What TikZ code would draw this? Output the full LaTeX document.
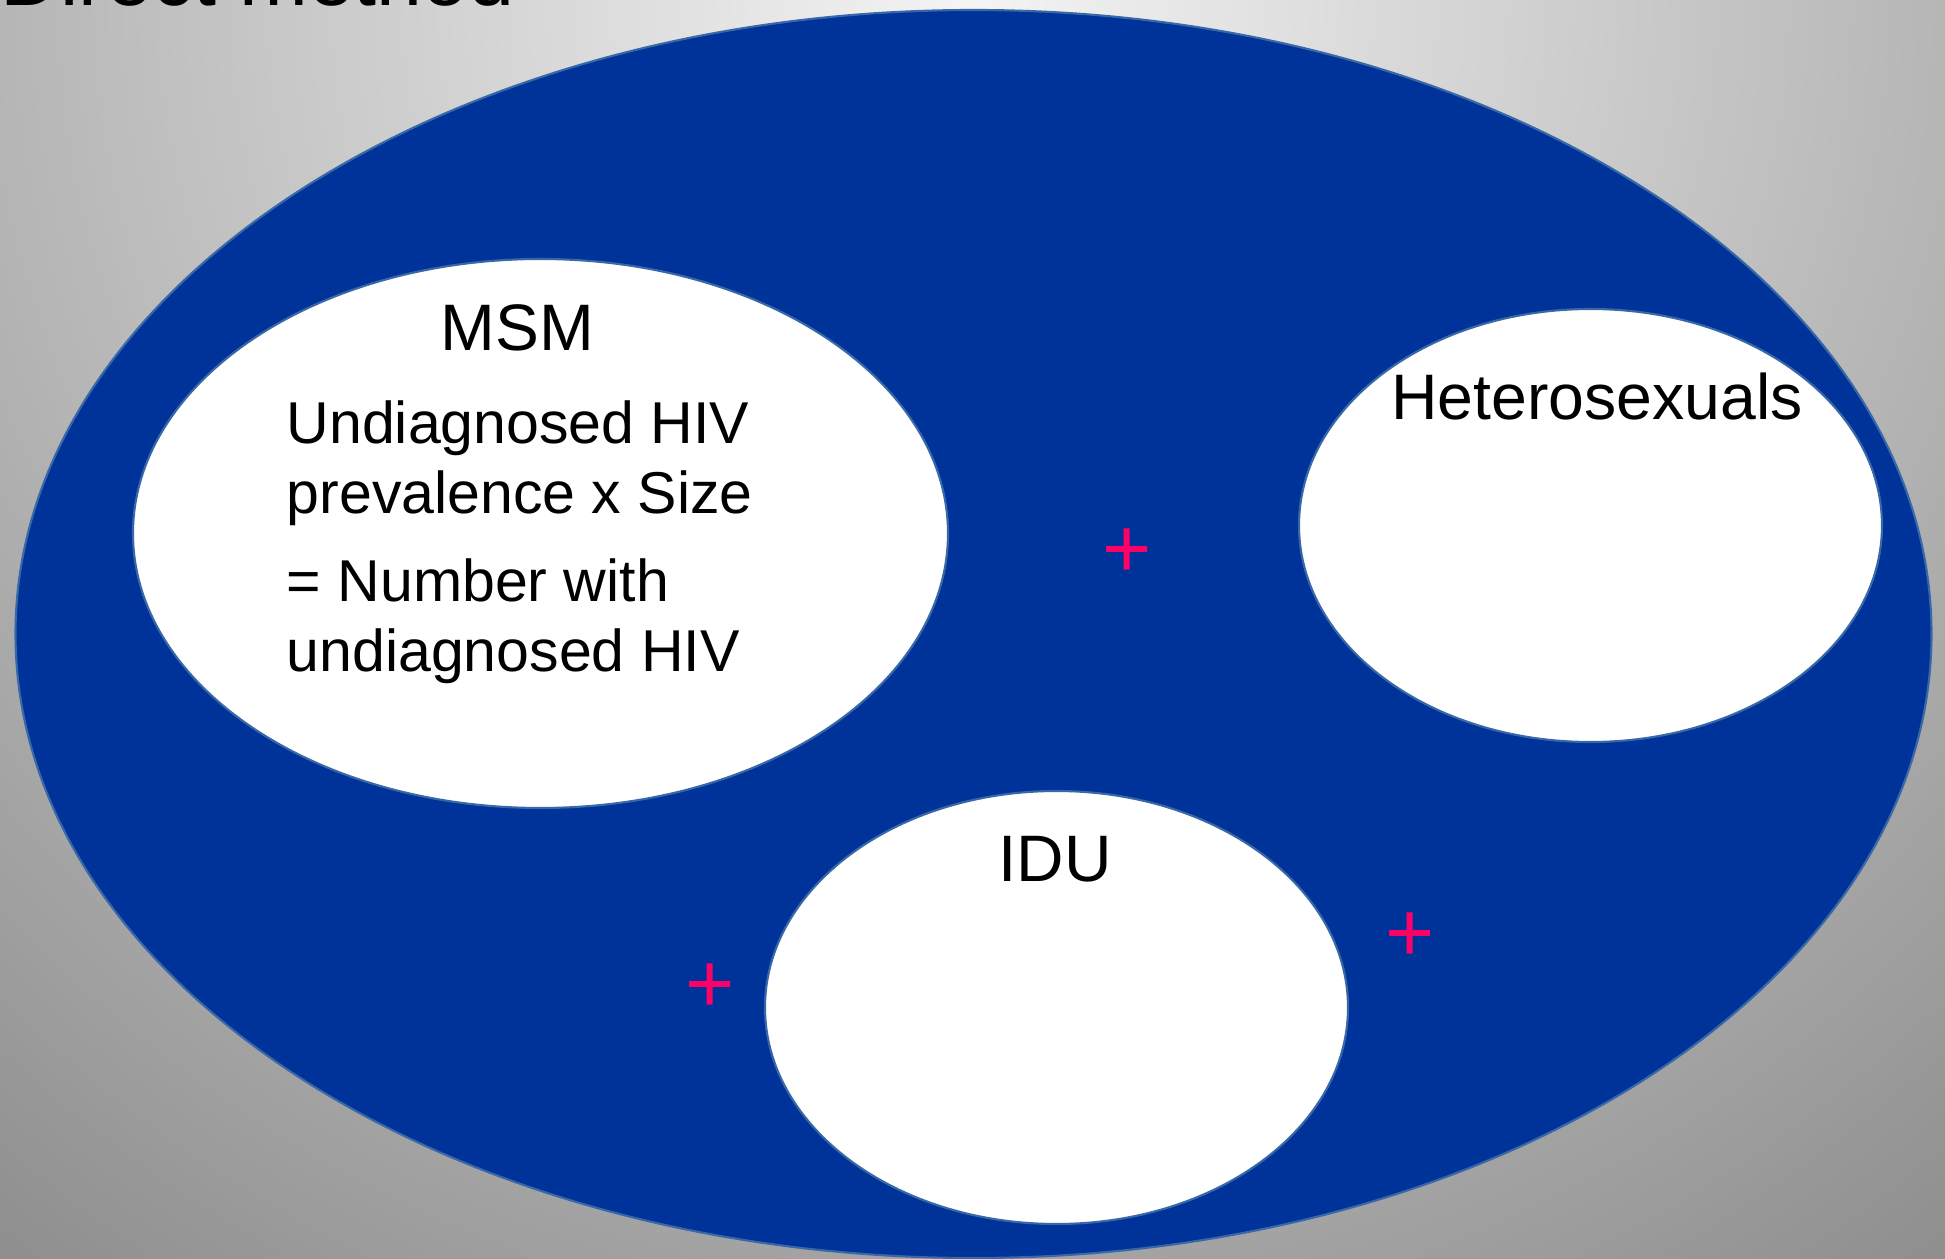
\documentclass[tikz,border=0pt]{standalone}
\usepackage{fontspec}
\setmainfont{Liberation Sans}
\usepackage{tikz}
\definecolor{popblue}{RGB}{0,51,153}
\definecolor{rimblue}{RGB}{56,104,168}
\definecolor{plusred}{RGB}{255,0,102}
\definecolor{bglight}{RGB}{244,244,244}
\definecolor{bgdark}{RGB}{135,135,135}
\pgfdeclareradialshading{bgglow}{\pgfpoint{0bp}{0bp}}{color(0bp)=(bglight); color(25bp)=(bgdark); color(50bp)=(bgdark)}

\begin{document}
\begin{tikzpicture}[
  group/.style={fill=white,draw=rimblue,line width=.6pt},
  grouplabel/.style={anchor=base,inner sep=0pt,font=\fontsize{18.7}{22.4}\selectfont},
  bodyline/.style={anchor=base west,inner sep=0pt,font=\fontsize{16.8}{20.2}\selectfont},
  plussign/.style={anchor=base,inner sep=0pt,text=plusred,font=\fontsize{24}{28.8}\selectfont}]
 \useasboundingbox (0,0) rectangle (19.45,12.58);
 \clip (0,0) rectangle (19.45,12.58);
 \shade[shading=bgglow] (9.73,12.58) circle (17);
 \node[anchor=base west,inner sep=0pt,font=\fontsize{23.5}{28}\selectfont] (title) at (0,12.52) {Direct method};
 \draw[fill=popblue,draw=rimblue,line width=.6pt] (9.735,6.24) ellipse (9.58 and 6.24);
 \draw[group] (5.405,7.245) ellipse (4.075 and 2.745);
 \draw[group] (15.905,7.325) ellipse (2.915 and 2.165);
 \draw[group] (10.565,2.505) ellipse (2.915 and 2.165);
 \node[grouplabel] (msm) at (5.175,9.073) {MSM};
 \node[bodyline] (msmA) at (2.86,8.147) {Undiagnosed HIV};
 \node[bodyline] (msmB) at (2.86,7.447) {prevalence x Size};
 \node[bodyline] (msmC) at (2.86,6.563) {= Number with};
 \node[bodyline] (msmD) at (2.86,5.863) {undiagnosed HIV};
 \node[grouplabel,font=\fontsize{18.3}{22}\selectfont] (hetero) at (15.97,8.38) {Heterosexuals};
 \node[grouplabel] (idu) at (10.55,3.76) {IDU};
 \node[plussign] (plusA) at (11.27,6.80) {+};
 \node[plussign] (plusB) at (7.10,2.46) {+};
 \node[plussign] (plusC) at (14.10,2.96) {+};
\end{tikzpicture}
\end{document}
